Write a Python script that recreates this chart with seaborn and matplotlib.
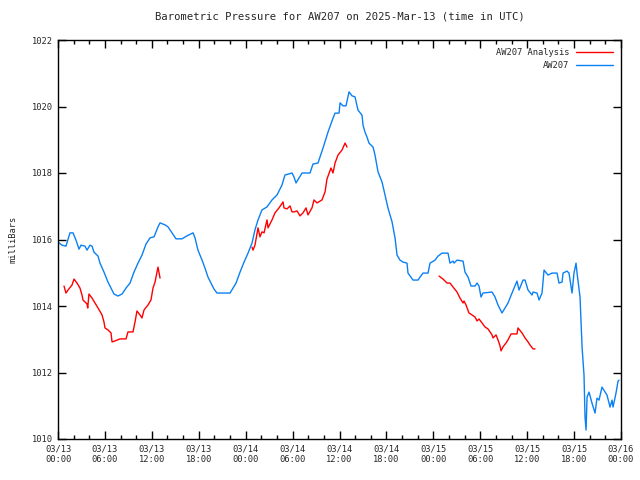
import numpy as np
import pandas as pd
import matplotlib
matplotlib.use("Agg")
import matplotlib.pyplot as plt
import seaborn as sns

# hours since 2025-03-13 00:00 UTC and pressure (mb)
obs_hours = [0.0, 0.51, 1.02, 1.53, 1.92, 2.30, 2.69, 2.94, 3.45, 3.71, 4.09, 4.35, 4.60, 5.12, 5.37,
             5.88, 6.39, 6.91, 7.16, 7.67, 8.19, 8.70, 9.21, 9.72, 10.23, 10.74, 11.25, 11.77, 12.28,
             12.79, 13.05, 13.68, 14.07, 14.58, 15.09, 15.86, 16.50, 17.27, 17.52, 17.90, 18.42, 18.80,
             19.18, 19.57, 19.95, 20.33, 21.10, 22.00, 22.38, 22.77, 23.28, 23.79, 24.30, 24.81, 25.19,
             25.58, 26.09, 26.73, 27.37, 28.01, 28.65, 29.03, 29.93, 30.18, 30.44, 31.21, 32.23, 32.61,
             33.25, 33.89, 34.53, 35.17, 35.43, 35.94, 36.07, 36.45, 36.83, 37.22, 37.60, 37.98, 38.37,
             38.88, 39.01, 39.26, 39.52, 39.77, 40.29, 40.54, 40.93, 41.44, 41.82, 42.20, 42.72, 43.10,
             43.36, 43.74, 44.12, 44.63, 44.76, 45.40, 46.04, 46.30, 46.68, 47.32, 47.58, 48.22, 48.60,
             49.11, 49.88, 50.13, 50.52, 50.65, 51.03, 51.80, 52.05, 52.44, 52.82, 53.33, 53.59, 53.84,
             54.10, 54.35, 55.51, 55.89, 56.27, 56.78, 57.17, 57.55, 58.06, 58.70, 58.96, 59.47, 59.73,
             60.11, 60.62, 60.75, 61.26, 61.52, 61.90, 62.16, 62.67, 63.18, 63.82, 64.07, 64.46, 64.59,
             65.10, 65.35, 65.74, 65.99, 66.25, 66.38, 66.76, 67.02, 67.27, 67.40, 67.53, 67.66, 67.91,
             68.29, 68.68, 68.93, 69.19, 69.57, 69.96, 70.21, 70.60, 70.85, 70.98, 71.36, 71.62, 71.75]
obs_press = [1015.92, 1015.83, 1015.80, 1016.20, 1016.20, 1015.98, 1015.71, 1015.83, 1015.80, 1015.68,
             1015.83, 1015.80, 1015.62, 1015.50, 1015.29, 1015.02, 1014.72, 1014.48, 1014.36, 1014.30,
             1014.36, 1014.54, 1014.69, 1015.02, 1015.29, 1015.53, 1015.86, 1016.05, 1016.08, 1016.38,
             1016.50, 1016.44, 1016.38, 1016.20, 1016.02, 1016.02, 1016.11, 1016.20, 1016.05, 1015.68,
             1015.38, 1015.14, 1014.87, 1014.69, 1014.51, 1014.39, 1014.39, 1014.39, 1014.54, 1014.69,
             1015.02, 1015.32, 1015.59, 1015.89, 1016.29, 1016.59, 1016.89, 1016.98, 1017.19, 1017.34,
             1017.64, 1017.94, 1018.00, 1017.88, 1017.70, 1018.00, 1018.00, 1018.27, 1018.30, 1018.75,
             1019.23, 1019.65, 1019.80, 1019.80, 1020.11, 1020.02, 1020.02, 1020.44, 1020.32, 1020.29,
             1019.89, 1019.74, 1019.44, 1019.23, 1019.08, 1018.90, 1018.78, 1018.54, 1018.03, 1017.73,
             1017.34, 1016.95, 1016.53, 1016.05, 1015.53, 1015.38, 1015.32, 1015.29, 1014.99, 1014.78,
             1014.78, 1014.87, 1014.99, 1014.99, 1015.29, 1015.38, 1015.50, 1015.59, 1015.59, 1015.29,
             1015.35, 1015.29, 1015.38, 1015.35, 1015.02, 1014.87, 1014.60, 1014.60, 1014.69, 1014.60,
             1014.27, 1014.39, 1014.42, 1014.27, 1014.03, 1013.79, 1013.94, 1014.09, 1014.39, 1014.75,
             1014.48, 1014.78, 1014.78, 1014.48, 1014.33, 1014.42, 1014.39, 1014.18, 1014.39, 1015.08,
             1014.93, 1014.99, 1014.99, 1014.69, 1014.72, 1014.99, 1015.05, 1014.99, 1014.39, 1014.99,
             1015.29, 1014.99, 1014.27, 1012.77, 1011.92, 1010.66, 1010.27, 1011.26, 1011.41, 1011.08,
             1010.78, 1011.23, 1011.17, 1011.56, 1011.41, 1011.32, 1010.96, 1011.17, 1010.96, 1011.38,
             1011.74, 1011.77]

# analysis runs (three separate segments)
ana1_hours = [0.77, 1.02, 1.28, 1.79, 2.05, 2.43, 2.81, 3.07, 3.20, 3.71, 3.80, 3.96, 4.35, 4.73, 5.12,
              5.63, 5.88, 6.01, 6.39, 6.78, 6.91, 7.29, 7.93, 8.70, 8.95, 9.59, 9.85, 10.10, 10.49,
              10.74, 11.00, 11.51, 11.89, 12.15, 12.41, 12.66, 12.79, 13.05]
ana1_press = [1014.60, 1014.39, 1014.48, 1014.63, 1014.81, 1014.69, 1014.54, 1014.33, 1014.18, 1014.06,
              1013.94, 1014.36, 1014.24, 1014.09, 1013.94, 1013.73, 1013.52, 1013.34, 1013.28, 1013.19,
              1012.92, 1012.95, 1013.01, 1013.01, 1013.22, 1013.22, 1013.52, 1013.85, 1013.73, 1013.64,
              1013.88, 1014.03, 1014.18, 1014.54, 1014.72, 1015.02, 1015.17, 1014.84]
ana2_hours = [24.81, 24.94, 25.19, 25.58, 25.83, 26.09, 26.35, 26.73, 26.86, 27.37, 27.75, 28.26, 28.78,
              28.90, 29.29, 29.67, 29.93, 30.18, 30.57, 30.95, 31.33, 31.72, 31.97, 32.48, 32.74, 33.12,
              33.76, 34.15, 34.40, 34.91, 35.17, 35.43, 35.81, 36.32, 36.71, 36.96]
ana2_press = [1015.77, 1015.68, 1015.83, 1016.35, 1016.08, 1016.23, 1016.20, 1016.59, 1016.35, 1016.59,
              1016.80, 1016.95, 1017.13, 1016.95, 1016.92, 1017.01, 1016.83, 1016.83, 1016.86, 1016.71,
              1016.80, 1016.95, 1016.74, 1016.95, 1017.19, 1017.10, 1017.19, 1017.43, 1017.82, 1018.15,
              1018.00, 1018.30, 1018.54, 1018.69, 1018.90, 1018.78]
ana3_hours = [48.73, 49.24, 49.75, 50.13, 50.52, 51.03, 51.41, 51.80, 51.92, 52.18, 52.56, 52.95, 53.33,
              53.59, 53.84, 54.23, 54.61, 54.99, 55.51, 55.63, 56.02, 56.27, 56.53, 56.66, 56.91, 57.30,
              57.55, 57.94, 58.45, 58.70, 58.83, 59.34, 59.73, 60.11, 60.36, 60.75, 61.00]
ana3_press = [1014.90, 1014.81, 1014.69, 1014.69, 1014.57, 1014.42, 1014.24, 1014.09, 1014.15, 1014.03,
              1013.79, 1013.73, 1013.67, 1013.55, 1013.61, 1013.49, 1013.37, 1013.31, 1013.13, 1013.04,
              1013.13, 1012.98, 1012.80, 1012.65, 1012.77, 1012.89, 1012.98, 1013.16, 1013.16, 1013.16,
              1013.34, 1013.19, 1013.04, 1012.92, 1012.83, 1012.71, 1012.71]

tick_hours = [0, 6, 12, 18, 24, 30, 36, 42, 48, 54, 60, 66, 72]
tick_labels = ["03/13\n00:00", "03/13\n06:00", "03/13\n12:00", "03/13\n18:00",
               "03/14\n00:00", "03/14\n06:00", "03/14\n12:00", "03/14\n18:00",
               "03/15\n00:00", "03/15\n06:00", "03/15\n12:00", "03/15\n18:00",
               "03/16\n00:00"]

sns.set_style("ticks")
plt.rcParams["font.family"] = ["DejaVu Sans Mono"]
plt.rcParams["font.size"] = 6.3

fig = plt.figure(figsize=(6.4, 4.8), dpi=100)
ax = fig.add_axes([58 / 640, 41 / 480, 563 / 640, 399 / 480])

red = "#ff0000"
blue = "#0a80f5"

segs = [(ana1_hours, ana1_press), (ana2_hours, ana2_press), (ana3_hours, ana3_press)]
for i, (h, p) in enumerate(segs):
    df = pd.DataFrame({"hours": h, "press": p})
    sns.lineplot(data=df, x="hours", y="press", color=red, lw=1, ax=ax,
                 label="AW207 Analysis" if i == 0 else None, sort=False)

obs = pd.DataFrame({"hours": obs_hours, "press": obs_press})
sns.lineplot(data=obs, x="hours", y="press", color=blue, lw=1, ax=ax, label="AW207", sort=False)

ax.set_xlim(0, 72)
ax.set_ylim(1010, 1022)
ax.set_xticks(tick_hours)
ax.set_xticklabels(tick_labels)
ax.set_xticks(np.arange(0, 73, 2), minor=True)
ax.set_yticks(np.arange(1010, 1023, 2))
ax.tick_params(which="both", direction="in", top=True, right=True, color="black")
ax.tick_params(which="major", length=6, width=1, pad=4)
ax.tick_params(which="minor", length=3, width=1)
for s in ax.spines.values():
    s.set_color("black")
    s.set_linewidth(1)

ax.set_xlabel("")
ax.set_ylabel("milliBars", labelpad=10)
ax.set_title("Barometric Pressure for AW207 on 2025-Mar-13 (time in UTC)", pad=15)

leg = ax.legend(loc="upper right", frameon=False, markerfirst=False, handlelength=4.2,
                borderaxespad=0.5, labelspacing=0.45, fontsize=6.3)
for t in leg.get_texts():
    t.set_ha("right")

fig.savefig("out.png", dpi=100)
